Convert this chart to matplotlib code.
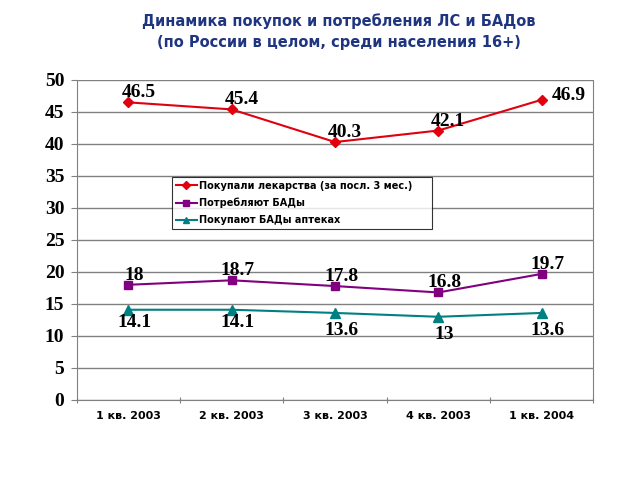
import matplotlib
matplotlib.use("Agg")
import matplotlib.pyplot as plt

categories = ["1 кв. 2003", "2 кв. 2003", "3 кв. 2003", "4 кв. 2003", "1 кв. 2004"]
medicines = [46.5, 45.4, 40.3, 42.1, 46.9]
supplements_use = [18, 18.7, 17.8, 16.8, 19.7]
supplements_pharmacy = [14.1, 14.1, 13.6, 13, 13.6]
series_names = ["Покупали лекарства (за посл. 3 мес.)", "Потребляют БАДы", "Покупают БАДы аптеках"]
title = "Динамика покупок и потребления ЛС и БАДов\n(по России в целом, среди населения 16+)"

fig = plt.figure(figsize=(6.4, 4.8), dpi=100)
ax = fig.add_axes([0.120, 0.1667, 0.807, 0.6667])

x = list(range(len(categories)))
red, purple, teal = "#E0000E", "#800080", "#008080"
l1, = ax.plot(x, medicines, color=red, marker="D", markersize=5, lw=1.5, label=series_names[0])
l2, = ax.plot(x, supplements_use, color=purple, marker="s", markersize=6, lw=1.5, label=series_names[1])
l3, = ax.plot(x, supplements_pharmacy, color=teal, marker="^", markersize=7, lw=1.5, label=series_names[2])

lab_font = dict(family="Liberation Serif", fontsize=14, fontweight="bold", color="black")
for i, v in enumerate(medicines):
    last = i == len(x) - 1
    ax.annotate(f"{v:g}", (i, v), xytext=(10 if last else 10, -4 if last else 1),
                textcoords="offset pixels", ha="left" if last else "center", va="bottom", **lab_font)
for i, v in enumerate(supplements_use):
    ax.annotate(f"{v:g}", (i, v), xytext=(6, 1), textcoords="offset pixels",
                ha="center", va="bottom", **lab_font)
for i, v in enumerate(supplements_pharmacy):
    dy = -4 if i < 2 else -9
    ax.annotate(f"{v:g}", (i, v), xytext=(6, dy), textcoords="offset pixels",
                ha="center", va="top", **lab_font)

ax.set_xlim(-0.5, len(x) - 0.5)
ax.set_ylim(0, 50)
ax.set_yticks(range(0, 51, 5))
ax.yaxis.grid(True, color="#808080", lw=1)
ax.set_axisbelow(True)
for s in ax.spines.values():
    s.set_color("#808080")
ax.spines["top"].set_visible(False)

ax.set_xticks([i - 0.5 for i in range(len(x) + 1)], minor=False)
ax.set_xticklabels([])
ax.set_xticks(x, minor=True)
ax.set_xticklabels(categories, minor=True, fontsize=8, fontweight="bold", family="DejaVu Sans")
ax.tick_params(axis="x", which="minor", length=0, pad=8)
ax.tick_params(axis="x", which="major", length=4, color="#808080", direction="inout")
ax.tick_params(axis="y", length=4, color="#808080", direction="out", pad=5)
for t in ax.get_yticklabels():
    t.set_family("Liberation Serif")
    t.set_fontsize(14)
    t.set_fontweight("bold")

leg = ax.legend(handles=[l1, l2, l3], loc="upper left", bbox_to_anchor=(0.184, 0.506, 0.504, 0.191),
                mode="expand", frameon=True, fancybox=False, edgecolor="black",
                prop=dict(family="DejaVu Sans", size=7, weight="bold"),
                handlelength=2.2, borderaxespad=0, labelspacing=0.7, handletextpad=0.2)
leg.get_frame().set_linewidth(0.8)
for h in leg.legend_handles:
    h.set_markersize(4)

fig.text(0.53, 0.935, title, ha="center", va="center", fontsize=10.5, fontweight="bold",
         color="#1F3580", family="DejaVu Sans", linespacing=1.5)

fig.savefig("out.png", dpi=100)
